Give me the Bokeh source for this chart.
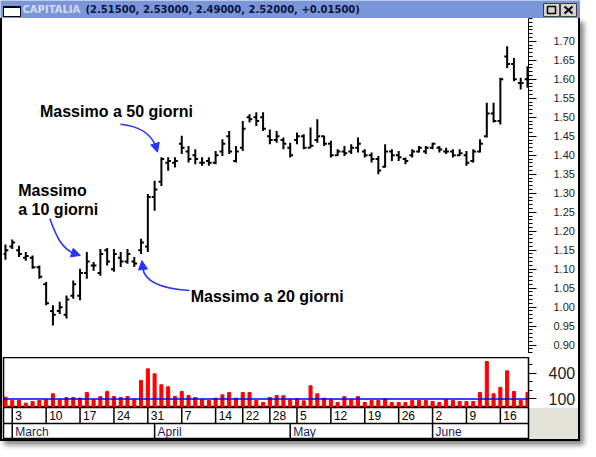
import numpy as np
from bokeh.plotting import figure
from bokeh.layouts import column
from bokeh.models import Range1d, FixedTicker, Span, Arrow, NormalHead, NumeralTickFormatter
from bokeh.core.properties import value
from bokeh.embed import file_html
from bokeh.resources import INLINE

# ---------------- data ----------------
title_name = "CAPITALIA"
title_values = "(2.51500, 2.53000, 2.49000, 2.52000, +0.01500)"

opens = [1.140, 1.160, 1.150, 1.130, 1.130, 1.105, 1.060, 0.990, 0.990, 0.980,
         1.030, 1.030, 1.090, 1.110, 1.090, 1.150, 1.100, 1.130, 1.120, 1.120,
         1.150, 1.160, 1.290, 1.330, 1.380, 1.380, 1.430, 1.410, 1.400, 1.380,
         1.385, 1.380, 1.410, 1.450, 1.385, 1.420, 1.500, 1.500, 1.500, 1.450,
         1.440, 1.440, 1.420, 1.440, 1.450, 1.420, 1.440, 1.450, 1.430, 1.400,
         1.410, 1.410, 1.420, 1.410, 1.400, 1.390, 1.370, 1.410, 1.400, 1.390,
         1.400, 1.410, 1.410, 1.420, 1.420, 1.410, 1.410, 1.400, 1.400, 1.385,
         1.410, 1.450, 1.510, 1.490, 1.660, 1.640, 1.590, 1.600]
highs = [1.165, 1.178, 1.162, 1.145, 1.136, 1.110, 1.066, 1.005, 1.014, 1.031,
         1.070, 1.101, 1.145, 1.119, 1.153, 1.156, 1.153, 1.145, 1.153, 1.132,
         1.180, 1.298, 1.333, 1.395, 1.395, 1.395, 1.451, 1.424, 1.416, 1.395,
         1.395, 1.411, 1.442, 1.464, 1.424, 1.490, 1.508, 1.513, 1.513, 1.468,
         1.464, 1.447, 1.433, 1.460, 1.455, 1.473, 1.495, 1.451, 1.438, 1.416,
         1.424, 1.429, 1.447, 1.416, 1.407, 1.398, 1.429, 1.416, 1.411, 1.394,
         1.416, 1.424, 1.424, 1.433, 1.424, 1.420, 1.416, 1.416, 1.411, 1.416,
         1.442, 1.538, 1.538, 1.604, 1.687, 1.656, 1.604, 1.634]
lows = [1.125, 1.153, 1.132, 1.122, 1.101, 1.075, 1.005, 0.952, 0.982, 0.970,
        1.022, 1.018, 1.075, 1.096, 1.083, 1.110, 1.093, 1.106, 1.114, 1.106,
        1.140, 1.145, 1.254, 1.319, 1.359, 1.368, 1.403, 1.381, 1.376, 1.372,
        1.372, 1.376, 1.398, 1.403, 1.381, 1.411, 1.486, 1.477, 1.464, 1.429,
        1.433, 1.416, 1.394, 1.429, 1.416, 1.420, 1.433, 1.424, 1.394, 1.398,
        1.398, 1.403, 1.407, 1.394, 1.381, 1.350, 1.368, 1.385, 1.385, 1.376,
        1.394, 1.407, 1.403, 1.416, 1.407, 1.403, 1.394, 1.398, 1.372, 1.381,
        1.407, 1.447, 1.486, 1.481, 1.630, 1.595, 1.573, 1.578]
closes = [1.150, 1.170, 1.140, 1.135, 1.105, 1.080, 1.010, 0.980, 1.000, 1.020,
          1.060, 1.090, 1.120, 1.110, 1.140, 1.120, 1.140, 1.120, 1.140, 1.115,
          1.170, 1.290, 1.310, 1.390, 1.385, 1.385, 1.420, 1.390, 1.390, 1.380,
          1.380, 1.400, 1.430, 1.410, 1.410, 1.470, 1.495, 1.490, 1.470, 1.440,
          1.450, 1.430, 1.400, 1.450, 1.420, 1.425, 1.450, 1.430, 1.400, 1.410,
          1.405, 1.420, 1.430, 1.400, 1.390, 1.360, 1.410, 1.400, 1.395, 1.385,
          1.410, 1.420, 1.420, 1.430, 1.415, 1.410, 1.400, 1.405, 1.380, 1.410,
          1.430, 1.510, 1.490, 1.600, 1.640, 1.600, 1.590, 1.590]
volumes = [121, 82, 82, 51, 70, 82, 90, 160, 90, 117,
           117, 109, 175, 90, 129, 187, 129, 117, 129, 90,
           316, 452, 394, 265, 242, 129, 187, 140, 117, 90,
           82, 109, 148, 175, 109, 175, 175, 82, 59, 117,
           140, 137, 90, 101, 78, 254, 160, 109, 90, 59,
           129, 90, 129, 59, 82, 82, 101, 59, 59, 59,
           82, 82, 82, 70, 59, 90, 82, 70, 70, 70,
           175, 538, 160, 234, 429, 187, 82, 175]

day_tick_idx = [1, 6, 11, 16, 21, 26, 31, 35, 39, 43, 48, 53, 58, 63, 68, 73]
day_tick_labels = ["3", "10", "17", "24", "31", "7", "14", "22", "28",
                   "5", "12", "19", "26", "2", "9", "16"]
month_tick_idx = [1, 22, 42, 63]
month_labels = ["March", "April", "May", "June"]

price_ticks = [0.90, 0.95, 1.00, 1.05, 1.10, 1.15, 1.20, 1.25, 1.30,
               1.35, 1.40, 1.45, 1.50, 1.55, 1.60, 1.65, 1.70]
vol_ticks = [100, 400]
vol_minor = [0, 100, 200, 300, 400, 500]
vol_ref = 100

# annotations (in bar-index / price units)
note_text = ["Massimo a 50 giorni", "Massimo", "a 10 giorni", "Massimo a 20 giorni"]
note_x = [5.09, 1.89, 1.89, 27.33]
note_y = [1.515, 1.306, 1.257, 1.029]

arr_x0 = [16.96, 6.54, 27.14]
arr_y0 = [1.4814, 1.2333, 1.0438]
arr_cx0 = [19.62, 7.41, 23.26]
arr_cy0 = [1.4761, 1.1900, 1.0483]
arr_cx1 = [21.37, 8.28, 20.49]
arr_cy1 = [1.4604, 1.1533, 1.0667]
arr_x1 = [22.17, 10.17, 20.25]
arr_y1 = [1.4236, 1.1415, 1.1034]
head_x = [22.43, 11.05, 20.13]
head_y = [1.4079, 1.1362, 1.1226]

# ---------------- figures ----------------
N = len(closes)
idx = list(range(N))
xr = Range1d(-0.29, N - 1 + 0.15)
BLUE = "#2b35f5"
common = dict(output_backend="svg", toolbar_location=None)

# title bar
t = figure(width=580, height=18, x_range=Range1d(0, 580), y_range=Range1d(0, 18),
           x_axis_location=None, y_axis_location=None, min_border=0, **common)
t.grid.visible = False
t.outline_line_color = None
t.background_fill_color = "#7b95d9"
t.border_fill_color = "#7b95d9"
t.quad(left=[3], right=[20], bottom=[2], top=[12], fill_color="white", line_color="black", line_width=1)
t.segment(x0=[3], y0=[11.5], x1=[20], y1=[11.5], line_color="black", line_width=2)
t.text(x=[22], y=[9], text=[title_name], text_color="#d3dafa", text_font=value("DejaVu Sans"),
       text_font_style="bold", text_font_size="10px", text_baseline="middle")
t.text(x=[85], y=[9], text=[title_values], text_color="#0c1440", text_font=value("DejaVu Sans"),
       text_font_style="bold", text_font_size="10px", text_baseline="middle")
t.quad(left=[543, 560], right=[559, 576], bottom=[2, 2], top=[15, 15], fill_color="#d6d3ce",
       line_color="#404040", line_width=1)
t.quad(left=[547], right=[555], bottom=[5], top=[12], fill_color=None, line_color="black", line_width=1.5)
t.segment(x0=[564, 564], y0=[5, 12], x1=[572, 572], y1=[12, 5], line_color="black", line_width=2)

# price pane
p = figure(width=576, height=335, x_range=xr, y_range=Range1d(0.878, 1.760),
           x_axis_location=None, y_axis_location="right",
           min_border_left=1, min_border_right=48, min_border_top=0, min_border_bottom=0, **common)
p.grid.visible = False
p.outline_line_color = None
ax = p.yaxis[0]
ax.ticker = FixedTicker(ticks=price_ticks, minor_ticks=list(np.round(np.arange(0.88, 1.761, 0.01), 2)))
ax.formatter = NumeralTickFormatter(format="0.00")
ax.major_tick_out = 8
ax.major_tick_in = 0
ax.minor_tick_out = 4
ax.minor_tick_in = 0
ax.major_label_standoff = 17
ax.major_label_text_font = "Liberation Sans"
ax.major_label_text_font_size = "11px"
ax.major_label_text_color = "#222222"
ax.axis_line_color = "black"

p.segment(x0=idx, y0=lows, x1=idx, y1=highs, line_color="black", line_width=2)
p.segment(x0=[i - 0.42 for i in idx], y0=opens, x1=idx, y1=opens, line_color="black", line_width=2)
p.segment(x0=idx, y0=closes, x1=[i + 0.42 for i in idx], y1=closes, line_color="black", line_width=2)

p.bezier(x0=arr_x0, y0=arr_y0, x1=arr_x1, y1=arr_y1, cx0=arr_cx0, cy0=arr_cy0,
         cx1=arr_cx1, cy1=arr_cy1, line_color=BLUE, line_width=1.6)
for i in range(len(arr_x1)):
    p.add_layout(Arrow(end=NormalHead(size=9, fill_color=BLUE, line_color=BLUE, line_width=1),
                       line_color=BLUE, line_width=1.6,
                       x_start=arr_x1[i], y_start=arr_y1[i], x_end=head_x[i], y_end=head_y[i]))
p.text(x=note_x, y=note_y, text=note_text, text_font=value("Liberation Sans"), text_font_style="bold",
       text_font_size="16px", text_baseline="middle", text_align="left", text_color="black")

# separator strip
s = figure(width=576, height=4, x_axis_location=None, y_axis_location=None, min_border=0, **common)
s.grid.visible = False
s.outline_line_color = None
s.background_fill_color = "#ecebe2"
s.border_fill_color = "#ecebe2"

# volume pane
v = figure(width=576, height=50, x_range=xr, y_range=Range1d(0, 585),
           x_axis_location=None, y_axis_location="right",
           min_border_left=1, min_border_right=48, min_border_top=0, min_border_bottom=0, **common)
v.grid.visible = False
v.outline_line_color = "black"
v.outline_line_width = 1.5
vax = v.yaxis[0]
vax.ticker = FixedTicker(ticks=vol_ticks, minor_ticks=vol_minor)
vax.major_tick_out = 8
vax.major_tick_in = 0
vax.minor_tick_out = 4
vax.minor_tick_in = 0
vax.major_label_standoff = 12
vax.major_label_text_font = "Liberation Sans"
vax.major_label_text_font_size = "16px"
vax.major_label_text_color = "#222222"
vax.axis_line_color = "black"
v.vbar(x=idx, top=volumes, width=0.45, fill_color="#ff0000", line_color="#ff0000")
v.add_layout(Span(location=vol_ref, dimension="width", line_color="#0000ff", line_width=1.5))

# date rows
d = figure(width=576, height=32, x_range=xr, y_range=Range1d(0, 2),
           x_axis_location=None, y_axis_location=None,
           min_border_left=1, min_border_right=48, min_border_top=0, min_border_bottom=0, **common)
d.grid.visible = False
d.outline_line_color = "black"
d.outline_line_width = 1.5
d.border_fill_color = "#e3e3da"
d.add_layout(Span(location=1, dimension="width", line_color="black", line_width=1.5))
d.segment(x0=day_tick_idx, y0=1, x1=day_tick_idx, y1=2, line_color="black", line_width=1.5)
d.segment(x0=month_tick_idx, y0=0, x1=month_tick_idx, y1=1, line_color="black", line_width=1.5)
d.text(x=day_tick_idx, y=1.5, text=day_tick_labels, x_offset=3, text_baseline="middle", text_align="left",
       text_font=value("Liberation Sans"), text_font_size="12px", text_color="black")
d.text(x=month_tick_idx, y=0.5, text=month_labels, x_offset=3, text_baseline="middle", text_align="left",
       text_font=value("Liberation Sans"), text_font_size="12px", text_color="#1e1a5a")

inner = column(p, s, v, d, spacing=0,
               styles={"border-left": "2px solid #000", "border-right": "2px solid #000",
                       "border-bottom": "2px solid #000", "box-shadow": "4px 4px 5px #888"})
layout = column(t, inner, spacing=0)

open("out.html", "w").write(file_html(layout, INLINE))
